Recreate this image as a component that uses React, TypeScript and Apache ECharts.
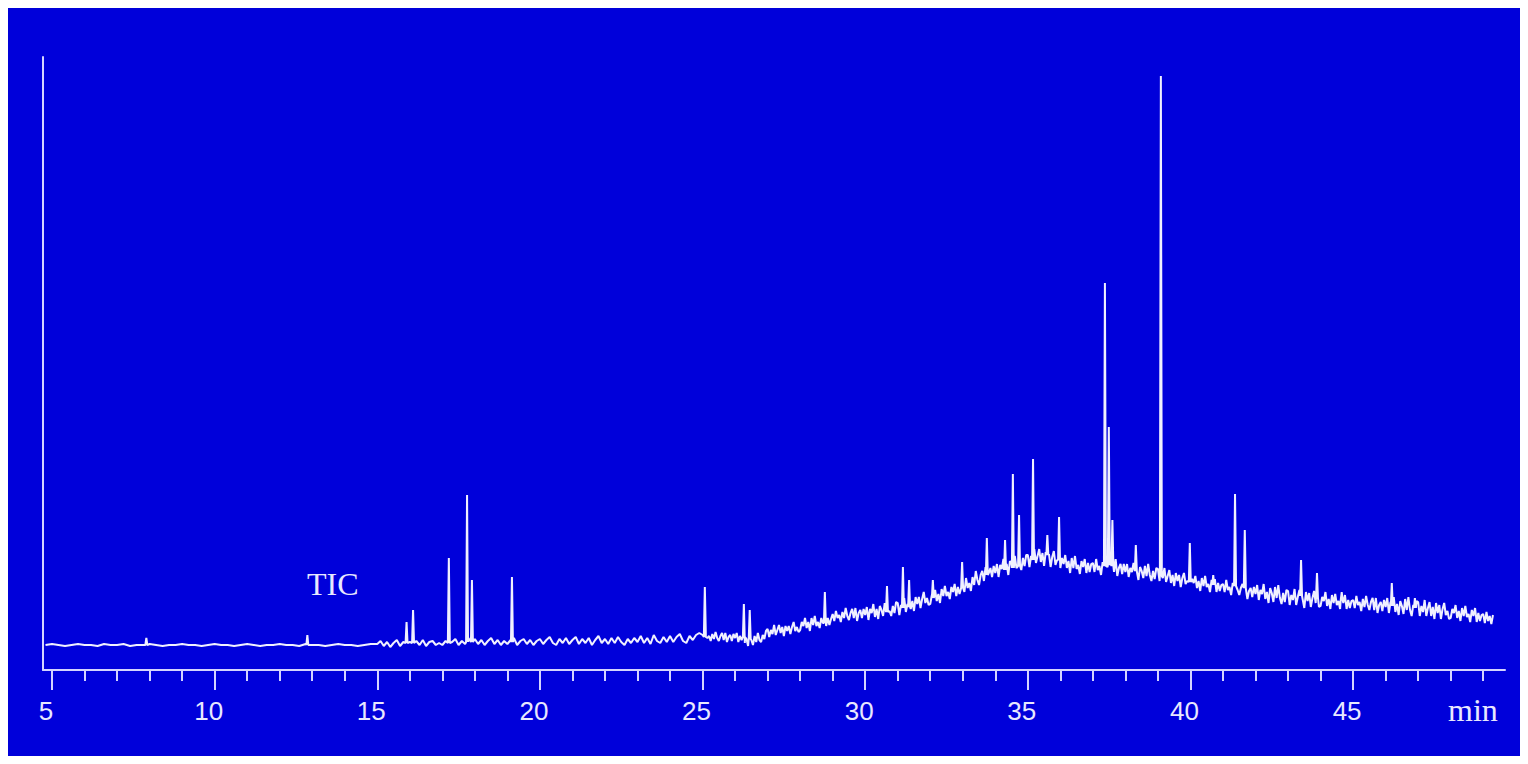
import React, { useEffect, useRef } from "react";
import * as echarts from "echarts";

// Retention time (min) ticks
const majorTicks = [5, 10, 15, 20, 25, 30, 35, 40, 45];
const minorTicks = [6, 7, 8, 9, 11, 12, 13, 14, 16, 17, 18, 19, 21, 22, 23, 24, 26, 27, 28, 29, 31, 32, 33, 34, 36, 37, 38, 39, 41, 42, 43, 44, 46, 47, 48, 49];

// Baseline segment A: starts at 4.8 min, step 0.2 min
const baseAStart = 4.8;
const baseAStep = 0.2;
const baseA = [
  25, 26, 25, 24, 25, 26, 25, 25, 24, 26,
  25, 25, 26, 24, 25, 25, 26, 25, 24, 25,
  25, 26, 25, 25, 24, 25, 26, 25, 25, 24,
  25, 26, 25, 24, 25, 25, 26, 25, 25, 24,
  26, 25, 25, 24, 25, 26, 25, 25, 24, 25,
  26,
];

// Baseline segment B: starts at 15.0 min, step 0.1 min
const baseBStart = 15.0;
const baseBStep = 0.1;
const baseB = [
  26, 29, 24, 28, 23, 27, 30, 24, 28, 25,
  28, 24, 29, 25, 30, 24, 28, 29, 25, 27,
  25, 29, 24, 28, 31, 25, 29, 26, 32, 28,
  31, 26, 30, 25, 29, 32, 26, 30, 25, 29,
  26, 30, 32, 25, 29, 31, 26, 30, 25, 29,
  31, 26, 30, 33, 27, 25, 31, 27, 32, 26,
  30, 33, 26, 31, 27, 32, 25, 30, 34, 27,
  31, 26, 32, 27, 33, 28, 25, 31, 27, 32,
  28, 34, 27, 32, 26, 35, 29, 27, 33, 28,
  34, 28, 33, 36, 29, 27, 34, 30, 35, 37,
];

// Baseline segment C: starts at 25.0 min, step 0.05 min
const baseCStart = 25.0;
const baseCStep = 0.05;
const baseC = [
  35, 30, 37, 32, 34, 29, 36, 31, 38, 32, 29, 34, 37, 30, 37, 28, 33, 35, 29, 36,
  32, 37, 28, 34, 30, 36, 27, 31, 24, 32, 30, 25, 34, 28, 37, 30, 28, 35, 31, 39,
  41, 33, 40, 36, 45, 35, 40, 45, 37, 43, 34, 44, 39, 44, 36, 43, 48, 39, 43, 38,
  40, 48, 44, 52, 42, 48, 39, 52, 45, 54, 44, 48, 42, 52, 47, 54, 44, 52, 45, 51,
  56, 49, 59, 52, 55, 48, 58, 52, 62, 54, 50, 57, 61, 52, 62, 49, 57, 60, 52, 61,
  55, 63, 50, 61, 57, 66, 53, 61, 51, 64, 60, 54, 67, 57, 70, 59, 54, 64, 57, 68,
  67, 55, 65, 60, 72, 58, 66, 72, 61, 69, 59, 73, 66, 73, 62, 71, 78, 67, 72, 65,
  66, 75, 72, 80, 69, 76, 67, 81, 74, 84, 74, 78, 71, 83, 78, 86, 74, 83, 76, 83,
  86, 78, 92, 82, 87, 79, 93, 85, 99, 90, 85, 95, 99, 89, 103, 87, 97, 102, 93, 104,
  97, 106, 93, 105, 101, 111, 98, 106, 95, 109, 106, 99, 114, 102, 117, 104, 100, 112, 104, 115,
  115, 103, 114, 108, 121, 107, 114, 121, 108, 117, 104, 118, 109, 116, 103, 113, 119, 105, 110, 102,
  102, 112, 106, 115, 102, 109, 97, 112, 102, 114, 101, 105, 96, 109, 103, 111, 97, 107, 98, 106,
  107, 98, 111, 100, 104, 95, 108, 100, 113, 103, 98, 107, 110, 98, 111, 94, 102, 106, 96, 106,
  98, 106, 93, 102, 98, 107, 94, 100, 90, 103, 99, 92, 104, 94, 106, 95, 89, 99, 91, 102,
  101, 89, 97, 92, 102, 88, 94, 100, 87, 95, 84, 97, 89, 95, 83, 92, 97, 86, 89, 82,
  82, 91, 87, 94, 82, 89, 79, 92, 84, 94, 83, 86, 78, 90, 84, 91, 78, 87, 79, 85,
  86, 78, 90, 80, 83, 75, 87, 78, 89, 80, 75, 82, 86, 75, 87, 71, 79, 82, 73, 83,
  76, 85, 70, 80, 76, 86, 71, 78, 67, 82, 77, 68, 83, 72, 85, 72, 66, 77, 68, 80,
  79, 65, 75, 70, 81, 65, 73, 80, 66, 74, 62, 78, 69, 77, 63, 72, 79, 67, 71, 63,
  64, 73, 69, 78, 64, 71, 61, 75, 67, 76, 65, 69, 61, 73, 67, 75, 61, 70, 62, 69,
  70, 62, 74, 65, 68, 59, 71, 63, 74, 65, 60, 68, 72, 60, 72, 57, 65, 68, 59, 70,
  63, 72, 57, 68, 63, 73, 58, 66, 55, 69, 64, 56, 71, 60, 73, 60, 54, 65, 56, 69,
  68, 54, 64, 58, 70, 54, 62, 68, 54, 63, 51, 67, 57, 65, 51, 61, 67, 55, 59, 51,
  52, 61, 57, 65, 52, 59, 49, 62, 54, 64, 53, 56, 48, 60, 54, 62, 48, 57, 49, 55,
  56, 47, 58, 49, 54, 46, 55,
];

// Peaks: retention time, apex intensity, foot intensity
const peakTimes = [7.9, 12.85, 15.9, 16.1, 17.2, 17.76, 17.91, 19.14, 25.07, 26.27, 26.45, 28.76, 30.67, 31.16, 31.35, 32.08, 32.98, 33.74, 34.3, 34.54, 34.73, 35.16, 35.6, 35.96, 37.37, 37.49, 37.6, 38.32, 39.09, 39.98, 40.7, 41.37, 41.67, 43.4, 43.89, 44.65, 46.19, 46.9];
const peakTops = [32, 35, 48, 60, 112, 175, 90, 93, 83, 66, 60, 78, 84, 103, 90, 90, 108, 132, 130, 196, 155, 211, 135, 153, 387, 243, 150, 125, 594, 127, 95, 176, 140, 110, 97, 78, 87, 72];
const peakFeet = [25, 25, 27, 27, 27, 28, 28, 28, 33, 33, 31, 47, 58, 62, 63, 72, 82, 95, 100, 102, 104, 110, 115, 110, 104, 105, 104, 99, 94, 88, 85, 84, 82, 74, 72, 70, 64, 62];

const buildSeries = (): [number, number][] => {
  const hw = 0.03;
  const base: [number, number][] = [];
  baseA.forEach((v, i) => base.push([+(baseAStart + i * baseAStep).toFixed(3), v]));
  baseB.forEach((v, i) => base.push([+(baseBStart + i * baseBStep).toFixed(3), v]));
  baseC.forEach((v, i) => base.push([+(baseCStart + i * baseCStep).toFixed(3), v]));
  const pts = base.filter(([t]) => !peakTimes.some((p) => Math.abs(t - p) <= hw));
  peakTimes.forEach((t, i) => {
    pts.push([t - hw, peakFeet[i]]);
    pts.push([t, peakTops[i]]);
    pts.push([t + hw, peakFeet[i]]);
  });
  pts.sort((a, b) => a[0] - b[0]);
  return pts;
};

const AXIS_COLOR = "#d4d4ff";
const TEXT_COLOR = "#e8e8ff";

export default function App() {
  const ref = useRef<HTMLDivElement>(null);
  useEffect(() => {
    if (!ref.current) return;
    const chart = echarts.init(ref.current, undefined, { renderer: "svg" });
    const xMin = 4.723;
    const xMax = 49.67;
    chart.setOption({
      animation: false,
      backgroundColor: "#0000da",
      grid: { left: 35, right: 15, top: 49, bottom: 86, containLabel: false },
      xAxis: [
        {
          type: "value",
          min: xMin,
          max: xMax,
          axisLine: { show: true, lineStyle: { color: AXIS_COLOR, width: 2 } },
          axisTick: { show: true, customValues: majorTicks, length: 20, lineStyle: { color: AXIS_COLOR, width: 2 } },
          axisLabel: {
            show: true,
            customValues: majorTicks,
            color: TEXT_COLOR,
            fontSize: 26,
            fontFamily: "Liberation Sans, Arial, sans-serif",
            margin: 28,
            padding: [0, 12, 0, 0],
          },
          splitLine: { show: false },
        },
        {
          type: "value",
          min: xMin,
          max: xMax,
          position: "bottom",
          axisLine: { show: false },
          axisTick: { show: true, customValues: minorTicks, length: 11, lineStyle: { color: AXIS_COLOR, width: 2 } },
          axisLabel: { show: false },
          splitLine: { show: false },
        },
      ],
      yAxis: {
        type: "value",
        min: 0,
        max: 613,
        axisLine: { show: true, lineStyle: { color: AXIS_COLOR, width: 2 } },
        axisTick: { show: false },
        axisLabel: { show: false },
        splitLine: { show: false },
      },
      graphic: [
        {
          type: "text",
          left: 1440,
          top: 686,
          style: { text: "min", fill: TEXT_COLOR, font: "32px 'Liberation Serif', 'Times New Roman', serif" },
        },
        {
          type: "text",
          left: 299,
          top: 560,
          style: { text: "TIC", fill: TEXT_COLOR, font: "32px 'Liberation Serif', 'Times New Roman', serif" },
        },
      ],
      series: [
        {
          type: "line",
          xAxisIndex: 0,
          data: buildSeries(),
          showSymbol: false,
          symbol: "none",
          lineStyle: { color: "#f0f0ff", width: 2 },
        },
      ],
    });
    return () => chart.dispose();
  }, []);
  return <div ref={ref} style={{ width: "100%", height: 748 }} />;
}
